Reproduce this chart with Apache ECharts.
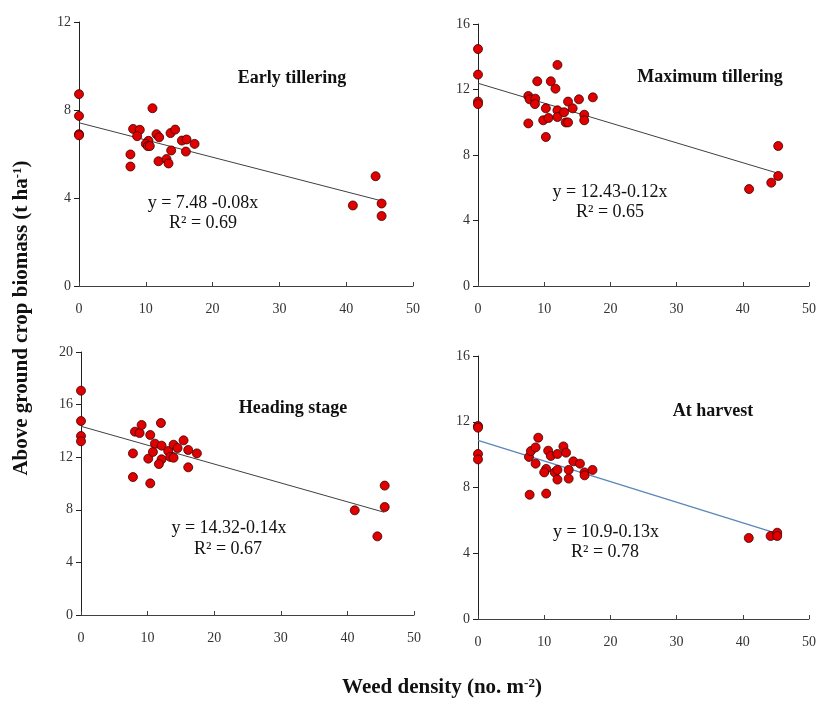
<!DOCTYPE html>
<html>
<head>
<meta charset="utf-8">
<script src="https://cdn.jsdelivr.net/npm/echarts@6/dist/echarts.min.js"></script>
<style>html,body{margin:0;padding:0;background:#fff}#c{width:819px;height:702px}</style>
</head>
<body>
<div id="c"></div>
<script>
// ---- data ----
const xTicks = [0, 10, 20, 30, 40, 50];
const panelTitles = ['Early tillering', 'Maximum tillering', 'Heading stage', 'At harvest'];
const equations = ['y = 7.48 -0.08x', 'y = 12.43-0.12x', 'y = 14.32-0.14x', 'y = 10.9-0.13x'];
const r2Labels = ['R² = 0.69', 'R² = 0.65', 'R² = 0.67', 'R² = 0.78'];
const yMax = [12, 16, 20, 16];

const p1x = [0,0,0,0,7.7,7.7,8.1,9.1,8.7,11.0,10.4,10.0,10.3,10.6,11.6,12.0,11.9,13.1,13.4,13.7,14.4,13.8,15.4,16.1,16.0,17.3,44.4,41.0,45.3,45.3];
const p1y = [8.72,7.73,6.9,6.85,5.98,5.43,7.14,7.10,6.81,8.08,6.60,6.46,6.36,6.36,6.90,6.76,5.67,5.77,5.57,6.95,7.11,6.16,6.61,6.66,6.11,6.46,4.99,3.66,3.75,3.18];

const p2x = [0,0,0,0,7.6,7.8,8.65,8.6,7.6,8.95,11.0,12.0,11.7,10.25,9.85,10.65,10.25,12.0,12.0,13.0,13.25,13.6,13.6,14.3,15.25,16.05,16.05,17.35,45.35,45.35,44.3,40.95];
const p2y = [14.47,12.91,11.26,11.11,11.60,11.40,11.44,11.11,9.93,12.50,12.50,13.50,12.05,10.85,10.12,10.26,9.10,10.73,10.32,10.61,9.99,9.99,11.26,10.85,11.40,10.46,10.12,11.52,8.55,6.72,6.31,5.92];

const p3x = [0,0,0,0,7.8,7.8,8.1,8.8,9.1,10.4,10.1,10.4,10.8,11.1,12.0,12.1,12.1,11.7,13.1,13.4,13.9,13.9,14.5,15.4,16.1,16.1,17.4,41.1,44.5,45.6,45.6];
const p3y = [17.06,14.75,13.61,13.21,12.29,10.49,13.94,13.84,14.45,13.69,11.89,10.01,12.40,13.03,14.60,12.88,11.84,11.48,12.47,12.02,12.95,11.96,12.70,13.28,12.55,11.23,12.29,7.96,5.98,8.21,9.84];

const p4x = [0,0,0,0,7.7,7.8,8.0,8.7,8.7,9.1,10.3,10.0,10.3,10.6,11.0,12.0,11.6,12.0,12.0,12.9,13.3,13.7,13.7,14.4,15.4,16.1,16.1,17.3,40.9,44.2,45.2,45.2];
const p4y = [11.74,11.64,10.04,9.71,9.86,7.56,10.22,10.44,9.45,11.03,9.13,8.92,7.63,10.24,9.92,10.04,8.92,9.07,8.48,10.50,10.12,9.07,8.54,9.59,9.45,8.92,8.74,9.07,4.93,5.05,5.25,5.05];

// trend line end points
const trend1 = [[0, 7.42], [45.3, 3.87]];
const trend2 = [[0, 12.38], [45.35, 6.88]];
const trend3 = [[0, 14.35], [45.55, 7.81]];
const trend4 = [[0, 10.87], [45.24, 5.19]];

const xs = [p1x, p2x, p3x, p4x];
const ys = [p1y, p2y, p3y, p4y];
const trends = [trend1, trend2, trend3, trend4];
const trendColors = ['#404040', '#404040', '#404040', '#5b87b8'];

// ---- layout ----
const grids = [
  {left: 79, top: 22, width: 334, height: 264},
  {left: 478, top: 24, width: 334, height: 262},
  {left: 81, top: 352, width: 333, height: 263},
  {left: 478, top: 356, width: 332, height: 263}
];
const FONT = "'Liberation Serif', 'Times New Roman', serif";

const xAxis = [], yAxis = [], series = [], graphic = [];
grids.forEach((g, i) => {
  xAxis.push({
    gridIndex: i, type: 'value', min: 0, max: 50, interval: 10,
    splitLine: {show: false},
    axisLine: {show: true, lineStyle: {color: '#404040', width: 1}},
    axisTick: {show: true, inside: true, length: 4, lineStyle: {color: '#404040'}},
    axisLabel: {margin: 16, color: '#333', fontFamily: FONT, fontSize: 14,
      formatter: v => xTicks.includes(v) ? String(v) : ''}
  });
  yAxis.push({
    gridIndex: i, type: 'value', min: 0, max: yMax[i], interval: 4,
    splitLine: {show: false},
    axisLine: {show: true, lineStyle: {color: '#222', width: 1}},
    axisTick: {show: true, inside: false, length: 5, lineStyle: {color: '#222'}},
    axisLabel: {margin: 8, color: '#333', fontFamily: FONT, fontSize: 14}
  });
  series.push({
    type: 'line', xAxisIndex: i, yAxisIndex: i, data: trends[i],
    symbol: 'none', silent: true, z: 2,
    lineStyle: {color: trendColors[i], width: i === 3 ? 1.4 : 1}
  });
  series.push({
    type: 'scatter', xAxisIndex: i, yAxisIndex: i, clip: false, z: 3,
    data: xs[i].map((x, k) => [x, ys[i][k]]),
    symbol: 'circle', symbolSize: 9,
    itemStyle: {color: '#e00000', borderColor: '#3a0000', borderWidth: 0.8, opacity: 1}
  });
});

const titlePos = [[292, 78], [710, 77], [293, 408], [713, 411]];
const eqPos = [[203, 203], [610, 192], [229, 528], [606, 532]];
const r2Pos = [[203, 223], [610, 212], [228, 549], [605, 552]];
for (let i = 0; i < 4; i++) {
  graphic.push({type: 'text', x: titlePos[i][0], y: titlePos[i][1],
    style: {text: panelTitles[i], fontFamily: FONT, fontWeight: 'bold', fontSize: 18,
      fill: '#111', align: 'center', verticalAlign: 'middle'}});
  graphic.push({type: 'text', x: eqPos[i][0], y: eqPos[i][1],
    style: {text: equations[i], fontFamily: FONT, fontSize: 18,
      fill: '#111', align: 'center', verticalAlign: 'middle'}});
  graphic.push({type: 'text', x: r2Pos[i][0], y: r2Pos[i][1],
    style: {text: r2Labels[i], fontFamily: FONT, fontSize: 18,
      fill: '#111', align: 'center', verticalAlign: 'middle'}});
}
const richAxis = {
  b: {fontFamily: FONT, fontWeight: 'bold', fontSize: 21, fill: '#111', color: '#111'},
  sup: {fontFamily: FONT, fontWeight: 'bold', fontSize: 13, fill: '#111', color: '#111', padding: [0, 0, 9, 0]}
};
graphic.push({type: 'text', x: 442, y: 688,
  style: {text: '{b|Weed density (no. m}{sup|-2}{b|)}', rich: richAxis,
    align: 'center', verticalAlign: 'middle'}});
graphic.push({type: 'text', x: 22, y: 318, rotation: Math.PI / 2,
  style: {text: '{b|Above ground crop biomass (t ha}{sup|-1}{b|)}', rich: richAxis,
    align: 'center', verticalAlign: 'middle'}});

const chart = echarts.init(document.getElementById('c'), null, {renderer: 'canvas'});
chart.setOption({
  animation: false,
  backgroundColor: '#fff',
  grid: grids,
  xAxis: xAxis,
  yAxis: yAxis,
  series: series,
  graphic: graphic
});
</script>
</body>
</html>
